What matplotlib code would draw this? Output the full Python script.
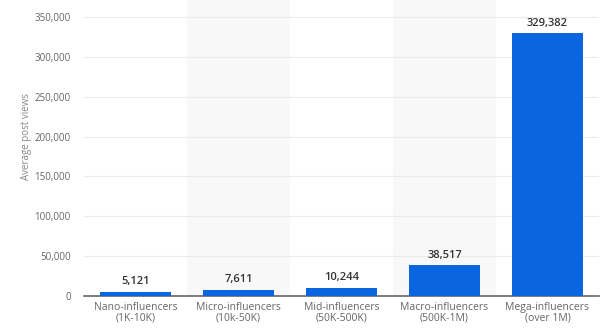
import matplotlib
matplotlib.use('Agg')
import matplotlib.pyplot as plt
import numpy as np

plt.rcParams['font.family'] = ['Open Sans', 'DejaVu Sans']

categories = ['Nano-influencers\n(1K-10K)', 'Micro-influencers\n(10k-50K)',
              'Mid-influencers\n(50K-500K)', 'Macro-influencers\n(500K-1M)',
              'Mega-influencers\n(over 1M)']
avg_views = [5121, 7611, 10244, 38517, 329382]
y_ticks = [0, 50000, 100000, 150000, 200000, 250000, 300000, 350000]

BAR_COLOR = '#0a66e0'
TICK_COLOR = '#666666'

fig = plt.figure(figsize=(6.02, 3.29), dpi=100)
ax = fig.add_axes([84 / 602, 33 / 329, 515 / 602, 296 / 329])

x = np.arange(len(categories))
# shaded bands behind every other category
for i in x:
    if i % 2 == 1:
        ax.axvspan(i - 0.5, i + 0.5, color='#f8f8f8', zorder=0, lw=0)

ax.set_ylim(0, 350000 * 296 / 279)
ax.set_xlim(-0.5, len(categories) - 0.5)
ax.set_yticks(y_ticks)
ax.set_yticklabels([f'{v:,}' for v in y_ticks])
ax.yaxis.grid(True, color='#ebebeb', lw=0.8, zorder=1)
ax.set_axisbelow(True)

bars = ax.bar(x, avg_views, width=0.69, color=BAR_COLOR, zorder=3)
for b, v in zip(bars, avg_views):
    ax.text(b.get_x() + b.get_width() / 2, v + 6000, f'{v:,}', ha='center', va='bottom',
            fontsize=8, color='#333333', fontweight='semibold')

ax.set_xticks(x)
ax.set_xticklabels(categories, fontsize=7.5, color=TICK_COLOR, linespacing=1.05)
ax.tick_params(axis='y', labelsize=7, colors=TICK_COLOR, length=0, pad=9.5)
ax.tick_params(axis='x', length=0, pad=4)

for s in ['top', 'right', 'left']:
    ax.spines[s].set_visible(False)
ax.spines['bottom'].set_color('#666666')
ax.spines['bottom'].set_linewidth(1.2)

ax.set_ylabel('Average post views', fontsize=7, color='#888888')
ax.yaxis.set_label_coords(-0.1, 0.54)

fig.savefig('out.png', dpi=100)
